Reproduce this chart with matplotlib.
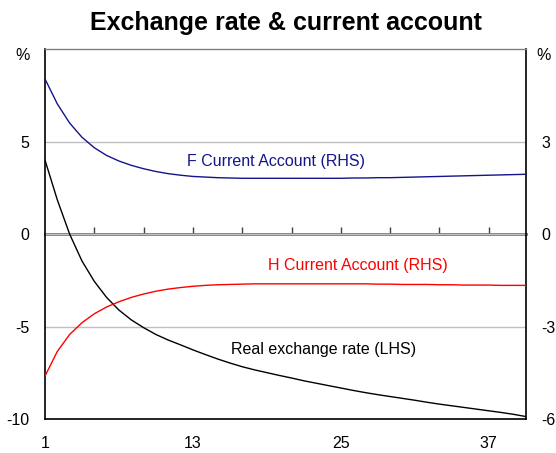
import numpy as np
import matplotlib
matplotlib.use("Agg")
import matplotlib.pyplot as plt

plt.rcParams['font.family'] = ['Liberation Sans', 'DejaVu Sans']
plt.rcParams['axes.unicode_minus'] = False

# quarters 1..40
periods = np.arange(1, 41)

# real exchange rate, LHS (%)
real_fx = [4.0, 1.85, 0.0, -1.45, -2.55, -3.42, -4.1, -4.63, -5.05, -5.42,
           -5.72, -5.98, -6.25, -6.5, -6.74, -6.96, -7.16, -7.33, -7.48, -7.63,
           -7.77, -7.92, -8.05, -8.18, -8.31, -8.44, -8.56, -8.67, -8.77, -8.87,
           -8.97, -9.08, -9.18, -9.27, -9.36, -9.45, -9.54, -9.63, -9.73, -9.85]

# F current account, RHS (%)
f_ca = [5.03, 4.22, 3.6, 3.14, 2.8, 2.55, 2.37, 2.23, 2.12, 2.03,
        1.96, 1.91, 1.87, 1.85, 1.83, 1.82, 1.81, 1.81, 1.81, 1.81,
        1.81, 1.81, 1.81, 1.81, 1.81, 1.82, 1.82, 1.83, 1.83, 1.84,
        1.85, 1.86, 1.87, 1.88, 1.89, 1.9, 1.91, 1.92, 1.93, 1.94]

# H current account, RHS (%)
h_ca = [-4.6, -3.8, -3.25, -2.87, -2.58, -2.36, -2.19, -2.05, -1.94, -1.85,
        -1.78, -1.73, -1.69, -1.66, -1.64, -1.63, -1.62, -1.61, -1.61, -1.61,
        -1.61, -1.61, -1.61, -1.61, -1.61, -1.61, -1.61, -1.62, -1.62, -1.63,
        -1.63, -1.63, -1.64, -1.64, -1.65, -1.65, -1.65, -1.66, -1.66, -1.66]

x_labels = [1, 13, 25, 37]
lhs_ticks = [-10, -5, 0, 5]
rhs_ticks = [-6, -3, 0, 3]

blue = '#14148c'
red = '#ff0000'
fs = 11.5

fig = plt.figure(figsize=(5.56, 4.53), dpi=100)
ax = fig.add_axes([45/556, 1-419.3/453, (525.7-45)/556, (419.3-49)/453])
ax2 = ax.twinx()

ax.set_xlim(1, 40)
ax.set_ylim(-10, 10)
ax2.set_ylim(-6, 6)

ax.plot(periods, real_fx, color='black', lw=1.0, zorder=3)
ax2.plot(periods, f_ca, color=blue, lw=1.0, zorder=3)
ax2.plot(periods, h_ca, color=red, lw=1.0, zorder=3)

ax.set_xticks(x_labels)
ax.set_yticks(lhs_ticks)
ax2.set_yticks(rhs_ticks)
ax.tick_params(axis='both', length=0, labelsize=fs)
ax.tick_params(axis='x', pad=12)
ax.tick_params(axis='y', pad=11)
ax2.tick_params(axis='y', length=0, labelsize=fs, pad=11)

ax.yaxis.grid(True, color='#c0c0c0', lw=1.0)
ax.set_axisbelow(True)

for s in ['left', 'bottom', 'right']:
    ax.spines[s].set_color('black')
    ax.spines[s].set_linewidth(1.2)
ax.spines['top'].set_color('#808080')
ax.spines['top'].set_linewidth(1.0)
for s in ax2.spines.values():
    s.set_visible(False)

# zero line with small ticks pointing up
zero = ax.secondary_xaxis(0.5)
zero.set_xticks(np.arange(5, 40, 4))
zero.tick_params(direction='out', length=5, width=1, color='#404040',
                 labeltop=False, labelbottom=False)
zero.spines['top'].set_color('#707070')
zero.spines['top'].set_linewidth(2)

ax2.text(12.5, 2.35, 'F Current Account (RHS)', color=blue, fontsize=fs,
         ha='left', va='center')
ax2.text(19.1, -1.0, 'H Current Account (RHS)', color=red, fontsize=fs,
         ha='left', va='center')
ax.text(16.06, -6.23, 'Real exchange rate (LHS)', color='black', fontsize=fs,
        ha='left', va='center')

fig.text(23/556, 1-55.5/453, '%', ha='center', va='center', fontsize=fs)
fig.text(543.5/556, 1-55.5/453, '%', ha='center', va='center', fontsize=fs)
fig.text(285.5/556, 1-23/453, 'Exchange rate & current account',
         ha='center', va='center', fontsize=18, fontweight='bold')

fig.savefig('out.png', dpi=100)
